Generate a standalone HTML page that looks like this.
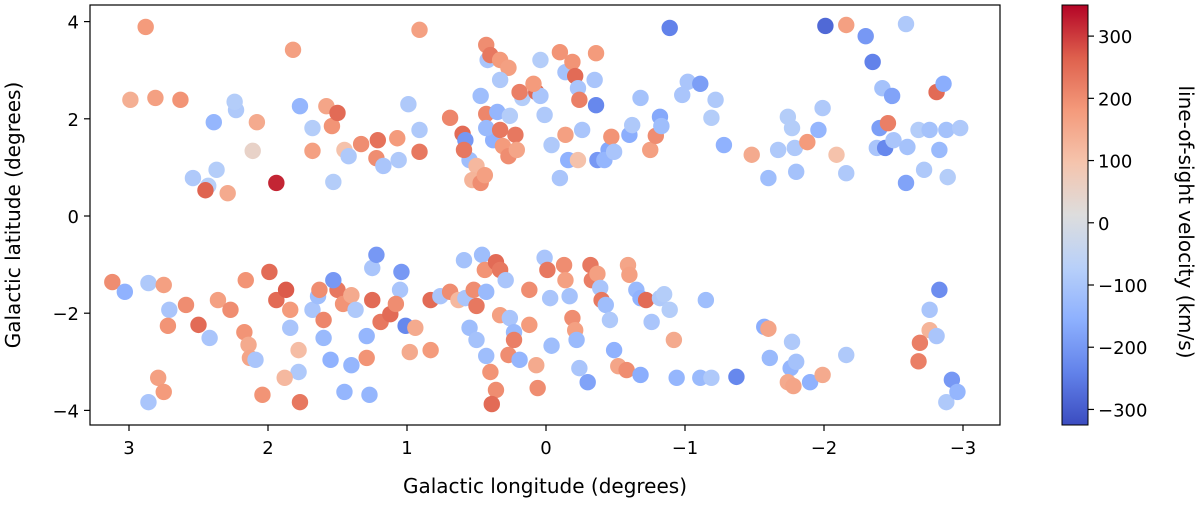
<!DOCTYPE html>
<html><head><meta charset="utf-8"><style>
html,body{margin:0;padding:0;background:#fff;}
svg text{font-family:"DejaVu Sans","Liberation Sans",sans-serif;fill:#000;}
</style></head><body>
<svg id="chart" width="1200" height="504" viewBox="0 0 1200 504" xmlns="http://www.w3.org/2000/svg">
<defs><linearGradient id="cbgrad" x1="0" y1="1" x2="0" y2="0"></linearGradient></defs>
<g id="points"></g>
<rect x="90" y="5" width="910" height="420" fill="none" stroke="#000" stroke-width="1.2"/>
<g id="xticks"></g>
<g id="yticks"></g>
<text x="545" y="493" font-size="20" text-anchor="middle">Galactic longitude (degrees)</text>
<text transform="translate(20,215) rotate(-90)" font-size="20" text-anchor="middle">Galactic latitude (degrees)</text>
<rect id="cbar" x="1062" y="5" width="26" height="420" fill="url(#cbgrad)" stroke="#000" stroke-width="1"/>
<g id="cticks"></g>
<text transform="translate(1179,222) rotate(90)" font-size="20" text-anchor="middle">line-of-sight velocity (km/s)</text>
</svg>
<script>
const lon=[2.99,2.81,2.63,2.88,2.54,2.43,2.45,2.29,2.37,2.39,2.23,2.24,2.08,2.11,1.94,1.82,1.77,1.68,1.68,1.58,1.54,1.50,1.53,1.45,1.42,1.33,1.21,1.22,1.17,1.06,1.07,0.99,0.91,0.91,0.91,0.69,0.60,0.58,0.55,0.59,0.50,0.53,0.47,0.44,0.47,0.43,0.43,0.42,0.40,0.33,0.27,0.33,0.35,0.38,0.43,0.33,0.31,0.27,0.22,0.21,0.26,0.17,0.19,0.07,0.04,0.09,0.04,0.01,-0.04,-0.10,-0.14,-0.19,-0.21,-0.23,-0.24,-0.14,-0.16,-0.10,-0.23,-0.26,-0.36,-0.35,-0.36,-0.37,-0.45,-0.42,-0.47,-0.49,-0.60,-0.62,-0.68,-0.75,-0.79,-0.82,-0.83,-0.89,-0.98,-1.02,-1.11,-1.22,-1.19,-1.28,-1.48,-1.60,-1.67,-1.74,-1.77,-1.79,-1.80,-1.88,-1.96,-1.99,-2.01,-2.09,-2.16,-2.16,-2.30,-2.35,-2.42,-2.38,-2.40,-2.44,-2.46,-2.49,-2.50,-2.59,-2.60,-2.59,-2.68,-2.72,-2.81,-2.76,-2.83,-2.86,-2.88,-2.89,-2.98,
3.12,3.03,2.86,2.75,2.71,2.72,2.79,2.75,2.86,2.59,2.50,2.36,2.42,2.27,2.16,2.17,2.14,2.13,2.09,2.04,1.99,1.94,1.87,1.84,1.84,1.78,1.78,1.88,1.77,1.68,1.64,1.63,1.60,1.60,1.55,1.50,1.53,1.46,1.40,1.45,1.40,1.37,1.29,1.29,1.27,1.25,1.25,1.22,1.19,1.12,1.05,1.08,1.04,1.01,0.98,0.94,0.83,0.83,0.76,0.69,0.59,0.63,0.58,0.52,0.50,0.55,0.50,0.46,0.44,0.43,0.43,0.40,0.36,0.39,0.36,0.33,0.29,0.33,0.26,0.23,0.27,0.23,0.19,0.12,0.12,0.07,0.06,0.01,-0.01,-0.03,-0.04,-0.13,-0.14,-0.17,-0.19,-0.21,-0.22,-0.24,-0.30,-0.32,-0.33,-0.37,-0.39,-0.40,-0.43,-0.46,-0.49,-0.52,-0.58,-0.59,-0.60,-0.65,-0.68,-0.72,-0.68,-0.76,-0.82,-0.85,-0.89,-0.94,-0.92,-1.11,-1.19,-1.15,-1.37,-1.57,-1.61,-1.60,-1.76,-1.74,-1.77,-1.80,-1.78,-1.90,-1.99,-2.16,-2.76,-2.76,-2.69,-2.68,-2.83,-2.81,-2.88,-2.92,-2.96];
const lat=[2.39,2.43,2.39,3.89,0.78,0.62,0.53,0.47,0.95,1.93,2.18,2.35,1.93,1.34,0.68,3.42,2.26,1.81,1.34,2.26,1.85,2.12,0.70,1.36,1.23,1.48,1.56,1.19,1.03,1.15,1.60,2.30,3.83,1.77,1.32,2.02,1.69,1.56,1.15,1.36,1.03,0.74,0.68,0.84,2.47,2.10,3.52,3.21,3.31,3.21,3.05,2.80,2.14,1.56,1.81,1.77,1.44,1.23,1.67,1.36,2.06,2.43,2.55,2.55,2.47,2.72,3.21,2.08,1.46,3.37,2.96,3.17,2.88,2.63,2.39,1.67,1.15,0.78,1.15,1.77,3.35,2.80,2.28,1.15,1.36,1.15,1.63,1.32,1.67,1.87,2.43,1.36,1.65,2.04,1.85,3.87,2.49,2.76,2.72,2.39,2.02,1.46,1.26,0.78,1.36,2.04,1.81,1.40,0.91,1.52,1.77,2.22,3.91,1.26,3.93,0.88,3.70,3.17,2.63,1.40,1.81,1.40,1.91,2.47,1.56,3.95,1.42,0.68,1.77,0.95,2.55,1.77,1.36,2.72,1.77,0.80,1.81,
-1.36,-1.56,-1.38,-1.42,-1.93,-2.26,-3.33,-3.62,-3.83,-1.83,-2.24,-1.73,-2.51,-1.93,-1.32,-2.39,-2.65,-2.92,-2.96,-3.68,-1.15,-1.73,-1.52,-1.93,-2.30,-2.76,-3.21,-3.33,-3.83,-1.93,-1.65,-1.52,-2.14,-2.51,-2.96,-1.52,-1.32,-1.81,-1.63,-3.62,-3.07,-1.93,-2.47,-2.92,-3.68,-1.73,-1.07,-0.80,-2.18,-2.02,-1.52,-1.81,-1.15,-2.26,-2.80,-2.30,-1.73,-2.76,-1.65,-1.56,-0.91,-1.73,-1.69,-1.52,-1.85,-2.30,-2.55,-0.80,-1.11,-1.56,-2.88,-3.21,-3.58,-3.87,-0.95,-1.11,-1.32,-2.04,-2.10,-2.39,-2.86,-2.55,-2.96,-1.52,-2.24,-3.07,-3.54,-0.86,-1.11,-1.69,-2.67,-1.01,-1.32,-1.65,-2.10,-2.35,-2.55,-3.13,-3.42,-1.01,-1.32,-1.19,-1.48,-1.73,-1.83,-2.14,-2.76,-3.09,-3.17,-1.01,-1.21,-1.52,-1.69,-1.73,-3.27,-2.18,-1.69,-1.61,-1.93,-3.33,-2.55,-3.33,-3.33,-1.73,-3.31,-2.28,-2.92,-2.32,-3.13,-3.42,-2.59,-3.00,-3.50,-3.42,-3.27,-2.86,-2.35,-1.93,-2.61,-2.99,-1.52,-2.47,-3.83,-3.37,-3.62];
const vel=[140,170,190,180,-90,-70,260,150,-80,-140,-90,-80,150,50,320,170,-140,-80,170,160,190,250,-80,100,-90,200,240,200,-100,-90,180,-90,170,-90,230,210,250,-200,-120,230,120,130,200,170,-120,210,200,-100,230,180,170,-90,-140,-150,-130,230,180,200,230,160,-80,-80,220,250,-100,180,-80,-90,-90,190,-110,190,250,-100,220,170,-150,-100,100,-100,180,-100,-230,-200,-170,-140,190,-100,-160,-90,-110,170,200,-170,-120,-240,-100,-100,-190,-90,-80,-150,150,-120,-90,-80,-80,-90,-110,180,-140,-90,-280,100,170,-90,-200,-240,-110,-100,-190,-230,220,-180,-100,-90,-110,-180,-80,-90,250,-110,-130,-160,-110,-80,-90,
200,-150,-90,170,-100,190,170,180,-100,200,250,170,-100,200,190,190,150,160,-100,190,250,250,270,180,-100,110,-90,120,230,-100,-120,200,210,-130,-150,230,-200,190,150,-140,-140,-90,-140,190,-140,250,-100,-200,230,250,-100,200,-200,-230,150,150,250,180,-100,200,-110,120,-100,200,230,-120,-110,-120,190,-130,-120,190,200,250,250,230,-100,170,-100,-130,200,220,-140,200,180,150,200,-100,230,-100,-120,200,170,-110,200,170,-130,-100,-180,230,220,170,-100,230,-120,-90,-150,160,200,160,170,-130,-150,250,-160,-100,-90,-80,-80,-140,150,-130,-90,-120,-230,-160,-130,160,-140,150,-90,-110,160,-150,150,-90,130,-100,220,220,-220,-100,-90,-200,-140];
const cbTicks=[300,200,100,0,-100,-200,-300];
const xTickVals=[3,2,1,0,-1,-2,-3];
const yTickVals=[4,2,0,-2,-4];
const VMIN=-325,VMAX=350;
const X=l=>546-139*l, Y=b=>216-48.6*b, CY=v=>425-(v-VMIN)/(VMAX-VMIN)*420;
const cmap=[[0,[59,76,192]],[0.125,[98,130,234]],[0.25,[141,176,254]],[0.375,[184,208,249]],[0.5,[221,221,221]],[0.625,[245,196,173]],[0.75,[244,154,123]],[0.875,[222,96,77]],[1,[180,4,38]]];
function col(v){let t=Math.max(0,Math.min(1,(v-VMIN)/(VMAX-VMIN)));for(let i=1;i<cmap.length;i++){if(t<=cmap[i][0]){const [a,ca]=cmap[i-1],[b,cb]=cmap[i];const f=(t-a)/(b-a);return 'rgb('+ca.map((c,k)=>Math.round(c+(cb[k]-c)*f)).join(',')+')';}}return 'rgb(180,4,38)';}
const NS='http://www.w3.org/2000/svg';
function mk(tag,attrs,parent){const e=document.createElementNS(NS,tag);for(const k in attrs)e.setAttribute(k,attrs[k]);parent.appendChild(e);return e;}
const pg=document.getElementById('points');
for(let i=0;i<lon.length;i++){
 const c=mk('circle',{cx:X(lon[i]),cy:Y(lat[i]),r:8.2,fill:col(vel[i])},pg);
 
 
}
const fmt=v=>v<0?'\u2212'+(-v):''+v;
const xg=document.getElementById('xticks');
xTickVals.forEach(v=>{const x=X(v);
 const l=mk('line',{x1:x,x2:x,y1:425,y2:431,stroke:'#000','stroke-width':1.2},xg);
 
 
 const t=mk('text',{x:x,y:454,'font-size':18,'text-anchor':'middle'},xg);t.textContent=fmt(v);
 
 
});
const yg=document.getElementById('yticks');
yTickVals.forEach(v=>{const y=Y(v);
 const l=mk('line',{x1:84,x2:90,y1:y,y2:y,stroke:'#000','stroke-width':1.2},yg);
 
 
 const t=mk('text',{x:79,y:y+7,'font-size':18,'text-anchor':'end'},yg);t.textContent=fmt(v);
 
 
});
const gr=document.getElementById('cbgrad');
cmap.forEach(([t,c])=>mk('stop',{offset:t,'stop-color':'rgb('+c.join(',')+')'},gr));
const cg=document.getElementById('cticks');
cbTicks.forEach(v=>{const y=CY(v);
 const l=mk('line',{x1:1088,x2:1094,y1:y,y2:y,stroke:'#000','stroke-width':1.2},cg);
 
 
 const t=mk('text',{x:1098,y:y+7,'font-size':18},cg);t.textContent=fmt(v);
 
 
});
</script>
</body></html>
